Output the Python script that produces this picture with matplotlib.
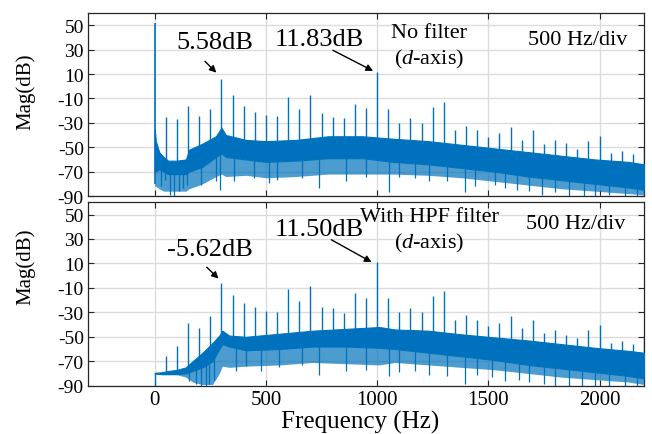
import numpy as np
import matplotlib.pyplot as plt

plt.rcParams['font.family'] = ['Liberation Serif', 'DejaVu Serif']
plt.rcParams['mathtext.fontset'] = 'custom'
plt.rcParams['mathtext.rm'] = 'Liberation Serif'
plt.rcParams['mathtext.it'] = 'Liberation Serif:italic'
plt.rcParams['axes.unicode_minus'] = False

azul = '#0072BD'

# Harmonicos (Hz) e picos (dB)
harm_f = [50, 100, 150, 200, 250, 300, 350, 400, 450, 500,
          550, 600, 650, 700, 750, 800, 850, 900, 950, 1000,
          1050, 1100, 1150, 1200, 1250, 1300, 1350, 1400, 1450, 1500,
          1550, 1600, 1650, 1700, 1750, 1800, 1850, 1900, 1950, 2000,
          2050, 2100, 2150, 2200]
harm_sem = [-25.4, -26.8, -16.2, -24.3, -18.6, 5.58, -7.4, -15.9, -21.1, -23.5,
            -24.1, -8.8, -18.9, -6.9, -22.1, -25.2, -26.2, -14.5, -18.0, 11.83,
            -18.3, -30.1, -26.0, -30.3, -17.0, -12.9, -36.0, -32.5, -35.8, -41.5,
            -38.3, -33.1, -43.8, -36.0, -47.5, -44.0, -46.7, -51.1, -44.8, -40.5,
            -54.7, -53.0, -55.4, -49.6]
harm_hpf = [-65.8, -57.4, -39.1, -42.4, -32.8, -5.62, -15.6, -22.1, -26.0, -28.7,
            -30.0, -10.9, -20.7, -8.2, -26.0, -26.5, -30.9, -14.2, -18.6, 11.50,
            -18.3, -29.8, -26.2, -30.0, -17.0, -12.3, -36.6, -32.2, -36.1, -41.3,
            -38.8, -33.0, -42.6, -36.3, -47.0, -44.3, -48.6, -51.1, -44.8, -40.2,
            -54.7, -53.8, -55.7, -49.4]
dc_sem = 52.0

# Faixa de ruido: topo, fundo do nucleo denso e fundo das franjas
ruido_f_sem = [0, 5, 20, 40, 60, 100, 140, 155, 215, 275, 300, 320, 410, 500,
               635, 780, 935, 1070, 1230, 1380, 1530, 1680, 1830, 1980, 2130, 2200]
ruido_sup_sem = [-35, -45, -54, -58, -61, -61, -60, -52, -47, -41, -34, -40, -44, -45,
                 -44, -41, -41, -43, -45, -48, -51, -54, -57, -60, -62, -64]
ruido_nuc_sem = [-70, -70, -68, -70, -72, -72, -72, -70, -66, -58, -55, -58, -60, -62,
                 -61, -59, -59, -62, -64, -67, -70, -74, -77, -80, -83, -85]
ruido_inf_sem = [-82, -82, -84, -86, -86, -86, -86, -84, -80, -74, -72, -74, -73, -75,
                 -74, -72, -72, -72, -73, -75, -78, -81, -84, -86, -88, -89]

ruido_f_hpf = [0, 30, 60, 100, 140, 170, 215, 260, 290, 304, 335, 410, 560, 710,
               860, 1010, 1080, 1230, 1380, 1530, 1680, 1830, 1980, 2130, 2200]
ruido_sup_hpf = [-79.5, -79, -78, -77, -75, -70, -63, -55, -49, -45, -49, -50, -47.5, -45,
                 -43.5, -42, -44, -45, -48, -50.5, -53, -56, -59, -61.5, -63]
ruido_nuc_hpf = [-80, -80.5, -80.5, -80.5, -80, -78, -75, -70, -60, -56, -58, -61, -60, -58,
                 -58, -59, -60, -63, -66, -69, -73, -76, -79, -82, -84]
ruido_inf_hpf = [-80.5, -81, -81, -81, -83, -87, -89, -89, -80, -74, -75, -74, -73, -71,
                 -72, -73, -71, -73, -75, -77, -80, -83, -85, -87, -89]

# Vales (Hz, dB)
vale_f_sem = [27, 45, 67, 85, 108, 125, 147, 207, 274, 292, 355, 445, 512, 551, 663, 738,
              858, 948, 1052, 1097, 1172, 1232, 1315, 1397, 1442, 1532, 1577, 1630, 1682,
              1742, 1802, 1862, 1929, 1981, 2041, 2116, 2168]
vale_db_sem = [-82, -77, -89, -90, -86, -83, -81, -81, -78, -85, -78, -75, -79, -77, -75, -83,
               -78, -74, -87, -74, -75, -78, -78, -87, -82, -81, -83, -85, -86,
               -89, -87, -90, -90, -90, -89, -90, -90]
vale_f_hpf = [154, 184, 207, 229, 244, 266, 364, 409, 476, 558, 663, 738, 858, 948, 1052,
              1097, 1172, 1232, 1315, 1397, 1449, 1517, 1577, 1637, 1682, 1749, 1802,
              1862, 1921, 1981, 2041, 2116, 2168]
vale_db_hpf = [-86, -89, -90, -90, -89, -85, -78, -74, -78, -75, -73, -81, -78, -77, -82,
               -79, -78, -81, -82, -89, -81, -83, -86, -85, -87, -89, -90,
               -90, -90, -90, -90, -90, -90]

fig = plt.figure(figsize=(6.52, 4.35), dpi=100)
ax1 = fig.add_axes([0.135, 0.547, 0.8527, 0.4208])
ax2 = fig.add_axes([0.135, 0.111, 0.8527, 0.4216])


def desenha(ax, rf, rs, rn, ri, vf, vd, hf, hd):
    ax.fill_between(rf, rn, rs, color=azul, lw=0.8, zorder=3)
    ax.fill_between(rf, ri, rn, color=azul, alpha=0.7, lw=0, zorder=3)
    meio = np.interp(vf, rf, rn) + 2
    ax.vlines(vf, vd, meio, color=azul, lw=0.9, zorder=3)
    ax.vlines(hf, np.interp(hf, rf, rs) - 2, hd, color=azul, lw=1.0, zorder=3)
    ax.set_xlim(-300, 2200)
    ax.set_ylim(-90, 60)
    ax.set_yticks([50, 30, 10, -10, -30, -50, -70, -90])
    ax.set_xticks([0, 500, 1000, 1500, 2000])
    ax.grid(True, color='#dcdcdc', lw=1.0)
    ax.set_axisbelow(True)
    ax.tick_params(direction='in', top=True, right=True, length=4,
                   color='#262626', labelsize=14, pad=3)
    for s in ax.spines.values():
        s.set_color('#262626')
        s.set_linewidth(0.9)
    ax.set_ylabel('Mag(dB)', fontsize=15)


desenha(ax1, ruido_f_sem, ruido_sup_sem, ruido_nuc_sem, ruido_inf_sem,
        vale_f_sem, vale_db_sem, harm_f, harm_sem)
ax1.vlines([0], -80, dc_sem, color=azul, lw=1.2, zorder=3)
ax1.tick_params(labelbottom=False)
ax1.yaxis.set_label_coords(-0.095, 0.574)

desenha(ax2, ruido_f_hpf, ruido_sup_hpf, ruido_nuc_hpf, ruido_inf_hpf,
        vale_f_hpf, vale_db_hpf, harm_f, harm_hpf)
ax2.vlines([0], -90, ruido_sup_hpf[0], color=azul, lw=1.0, zorder=3)
ax2.tick_params(axis='x', labelsize=15, pad=3)
ax2.yaxis.set_label_coords(-0.095, 0.653)
ax2.set_xlabel('Frequency (Hz)', fontsize=18)
ax2.xaxis.set_label_coords(0.489, -0.13)

seta = dict(arrowstyle='-|>', color='black', lw=1.0, mutation_scale=10)

# Anotacoes do grafico de cima
ax1.annotate('', xy=(286, 9.5), xytext=(217, 22), arrowprops=seta)
ax1.text(270, 36, '5.58dB', fontsize=19, ha='center', va='center')
ax1.annotate('', xy=(993, 11.5), xytext=(790, 30.5), arrowprops=seta)
ax1.text(741, 38.5, '11.83dB', fontsize=19, ha='center', va='center')
ax1.text(1235, 32.5, 'No filter\n($\\it{d}$-axis)', fontsize=16, ha='center', va='center',
         linespacing=1.3)
ax1.text(1900, 38, '500 Hz/div', fontsize=16, ha='center', va='center')

# Anotacoes do grafico de baixo
ax2.annotate('', xy=(296, -4), xytext=(225, 8.5), arrowprops=seta)
ax2.text(246, 22, '-5.62dB', fontsize=19, ha='center', va='center')
ax2.annotate('', xy=(986, 10), xytext=(783, 30.5), arrowprops=seta)
ax2.text(741, 38.5, '11.50dB', fontsize=19, ha='center', va='center')
ax2.text(1235, 37, 'With HPF filter\n($\\it{d}$-axis)', fontsize=16, ha='center',
         va='center', linespacing=1.3)
ax2.text(1895, 42.5, '500 Hz/div', fontsize=16, ha='center', va='center')

fig.savefig('out.png', dpi=100)
